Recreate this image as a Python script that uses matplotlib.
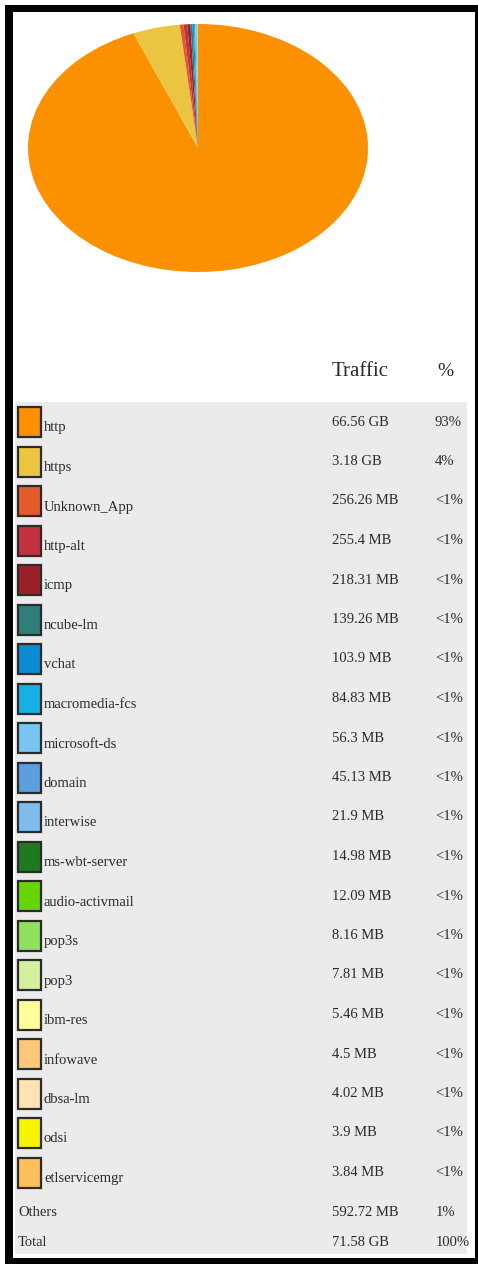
import matplotlib
matplotlib.use("Agg")
import matplotlib.pyplot as plt
from matplotlib.patches import Rectangle

apps = [
    "http", "https", "Unknown_App", "http-alt", "icmp", "ncube-lm", "vchat",
    "macromedia-fcs", "microsoft-ds", "domain", "interwise", "ms-wbt-server",
    "audio-activmail", "pop3s", "pop3", "ibm-res", "infowave", "dbsa-lm",
    "odsi", "etlservicemgr",
]
traffic_mb = [
    66.56 * 1024, 3.18 * 1024, 256.26, 255.4, 218.31, 139.26, 103.9,
    84.83, 56.3, 45.13, 21.9, 14.98, 12.09, 8.16, 7.81, 5.46, 4.5, 4.02,
    3.9, 3.84,
]
traffic_labels = [
    "66.56 GB", "3.18 GB", "256.26 MB", "255.4 MB", "218.31 MB", "139.26 MB",
    "103.9 MB", "84.83 MB", "56.3 MB", "45.13 MB", "21.9 MB", "14.98 MB",
    "12.09 MB", "8.16 MB", "7.81 MB", "5.46 MB", "4.5 MB", "4.02 MB",
    "3.9 MB", "3.84 MB",
]
percent_labels = ["93%", "4%"] + ["<1%"] * 18
colors = [
    "#fb9000", "#e9c542", "#e35a2b", "#c2323f", "#9c1f28", "#2f7e78",
    "#0a8bd2", "#16b0e2", "#78c5ef", "#5b9fdf", "#7dbdec", "#1f7a1f",
    "#67d600", "#8fe05e", "#d2f0a0", "#ffff9c", "#fcc77a", "#fde2b3",
    "#f9f500", "#fdc05c",
]
footer_rows = [("Others", "592.72 MB", "1%"), ("Total", "71.58 GB", "100%")]

W, H = 478, 1264
fig = plt.figure(figsize=(W / 100, H / 100), dpi=100)
fig.patch.set_facecolor("white")

# background canvas in pixel coordinates
bg = fig.add_axes([0, 0, 1, 1])
bg.set_xlim(0, W)
bg.set_ylim(H, 0)
bg.axis("off")
bg.add_patch(Rectangle((5, 5), W - 5, H - 5, facecolor="black", edgecolor="none"))
bg.add_patch(Rectangle((13, 12), 462, 1246, facecolor="white", edgecolor="none"))
bg.add_patch(Rectangle((15, 402), 452, 852, facecolor="#ebebeb", edgecolor="none"))

# pie, squashed into an ellipse
pie_ax = fig.add_axes([28 / W, 1 - 272 / H, 340 / W, 248 / H])
pie_ax.pie(traffic_mb, colors=colors, startangle=90, counterclock=False,
           wedgeprops={"linewidth": 0})
pie_ax.set_xlim(-1, 1)
pie_ax.set_ylim(-1, 1)
pie_ax.set_aspect("auto")
pie_ax.axis("off")

serif = ["Liberation Serif", "DejaVu Serif"]
text_color = "#2a2a2a"

bg.text(332, 371, "Traffic", fontsize=15, family=serif, color=text_color,
        va="center", ha="left")
bg.text(437, 371, "%", fontsize=14, family=serif, color=text_color,
        va="center", ha="left")

row_top = 407
pitch = 39.5
for i, (app, tl, pl, c) in enumerate(zip(apps, traffic_labels, percent_labels, colors)):
    top = row_top + i * pitch
    bg.add_patch(Rectangle((18.5, top), 23, 30, facecolor=c, edgecolor="#2b2b2b",
                           linewidth=1.6))
    bg.text(44, top + 21, app, fontsize=10.5, family=serif, color=text_color,
            va="center", ha="left")
    bg.text(332, top + 15, tl, fontsize=10.5, family=serif, color=text_color,
            va="center", ha="left")
    bg.text(435, top + 15, pl, fontsize=10.5, family=serif, color=text_color,
            va="center", ha="left")

footer_y = [1213, 1243]
for (name, tl, pl), y in zip(footer_rows, footer_y):
    bg.text(18, y, name, fontsize=10.5, family=serif, color=text_color,
            va="center", ha="left")
    bg.text(332, y, tl, fontsize=10.5, family=serif, color=text_color,
            va="center", ha="left")
    bg.text(436, y, pl, fontsize=10.5, family=serif, color=text_color,
            va="center", ha="left")

fig.savefig("out.png", dpi=100)
